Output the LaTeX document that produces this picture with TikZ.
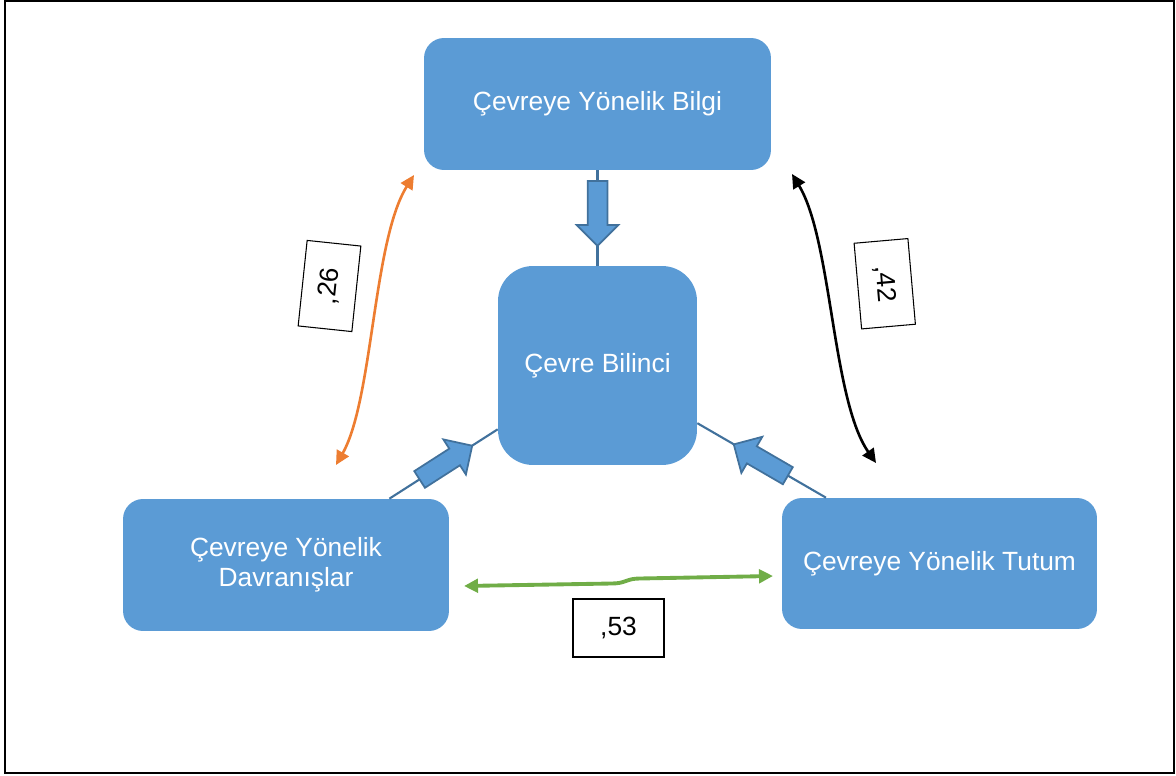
\documentclass[tikz,border=0pt]{standalone}
\usepackage{fontspec}
\setmainfont{Liberation Sans}
\usetikzlibrary{shapes.arrows,arrows.meta,calc}
\definecolor{kutumavi}{HTML}{5B9BD5}
\definecolor{kenarmavi}{HTML}{41719C}
\definecolor{turuncu}{HTML}{ED7D31}
\definecolor{yesil}{HTML}{70AD47}

\begin{document}
\begin{tikzpicture}[x=0.02cm, y=-0.02cm,
    kutu/.style={fill=kutumavi, text=white, rounded corners=0.4cm, align=center, inner sep=0pt, font=\fontsize{15}{17}\selectfont},
    baglanti/.style={draw=kenarmavi, line width=1.2pt},
    okblok/.style={single arrow, draw=kenarmavi, fill=kutumavi, line width=1pt, inner sep=0.18cm, single arrow head extend=0.22cm, minimum height=1.25cm},
    katsayi/.style={draw, line width=0.6pt, inner sep=0pt, font=\fontsize{15}{17}\selectfont},
    iki ucu/.style={{Triangle[length=0.28cm,width=0.27cm]}-{Triangle[length=0.28cm,width=0.27cm]}}]
    \useasboundingbox (0,0) rectangle (1176,776);
    \draw[line width=1.1pt] (5,1) rectangle (1174,773);

    % kutular
    \node[kutu, minimum width=6.94cm, minimum height=2.64cm] (bilgi) at (597.5,104) {Çevreye Yönelik Bilgi};
    \node[kutu, minimum width=3.98cm, minimum height=3.98cm, rounded corners=0.7cm] (bilinc) at (597.5,365.5) {Çevre Bilinci};
    \node[kutu, minimum width=6.52cm, minimum height=2.64cm] (davranis) at (286,565) {Çevreye Yönelik\\Davranışlar};
    \node[kutu, minimum width=6.3cm, minimum height=2.62cm] (tutum) at (939.5,563.5) {Çevreye Yönelik Tutum};

    % bilince giden yollar
    \draw[baglanti] (bilgi) -- (bilinc);
    \draw[baglanti] (davranis) -- (bilinc);
    \draw[baglanti] (tutum) -- (bilinc);
    \node[okblok, rotate=-90, minimum height=1.3cm] (okBilgi) at ($(bilgi.south)!0.4!(bilinc.north)$) {};
    \node[okblok, rotate=32.7] (okDavranis) at ($(davranis)!0.5!(bilinc)$) {};
    \node[okblok, rotate=149.9] (okTutum) at ($(tutum)!0.51!(bilinc)$) {};

    % korelasyonlar
    \coordinate (turuncuA) at (414,175);
    \coordinate (turuncuB) at (336,465);
    \coordinate (siyahA) at (792,174);
    \coordinate (siyahB) at (876,463);
    \coordinate (yesilA) at (464,586);
    \coordinate (yesilB) at (773,576);
    \draw[turuncu, line width=1.5pt, iki ucu] (turuncuB) .. controls (373,400) and (373,240) .. (turuncuA);
    \draw[line width=1.5pt, iki ucu] (siyahA) .. controls (832,240) and (832,400) .. (siyahB);
    \draw[yesil, line width=2.2pt, iki ucu] (yesilA) -- (612,583.5) .. controls (626,583.5) and (626,578.5) .. (640,578.5) -- (yesilB);

    \node[katsayi, minimum width=1.72cm, minimum height=1.08cm, rotate=84] (k26) at (329.5,286) {,26};
    \node[katsayi, minimum width=1.72cm, minimum height=1.08cm, rotate=-85] (k42) at (884.75,283.75) {,42};
    \node[katsayi, minimum width=1.82cm, minimum height=1.16cm] (k53) at (618.5,628) {,53};
\end{tikzpicture}
\end{document}
